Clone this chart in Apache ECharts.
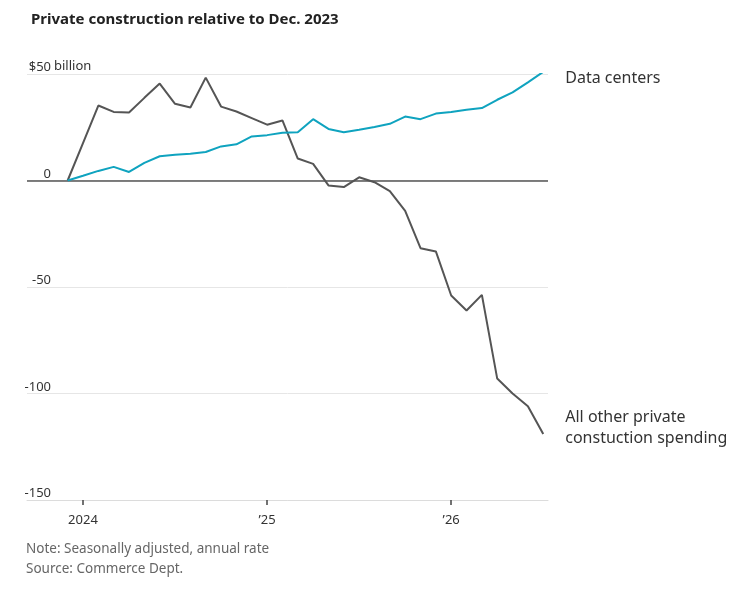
<!DOCTYPE html>
<html>
<head>
    <meta charset="utf-8">
    <title>Private construction relative to Dec. 2023</title>
    <style>
        html, body { margin: 0; padding: 0; background: #fff; }
        #main { width: 752px; height: 590px; }
    </style>
</head>
<body>
<div id="main"></div>
<script src="https://cdn.jsdelivr.net/npm/echarts@6.0.0/dist/echarts.min.js"></script>
<script type="text/javascript">

// months from Dec. 2023, one point each
var months = ['2023-12',
    '2024-01','2024-02','2024-03','2024-04','2024-05','2024-06','2024-07','2024-08','2024-09','2024-10','2024-11','2024-12',
    '2025-01','2025-02','2025-03','2025-04','2025-05','2025-06','2025-07','2025-08','2025-09','2025-10','2025-11','2025-12',
    '2026-01','2026-02','2026-03','2026-04','2026-05','2026-06','2026-07'];

// change vs Dec. 2023, $ billion
var dataCenters = [0, 2.2, 4.5, 6.4, 4.0, 8.3, 11.4, 12.1, 12.6, 13.4, 16.0, 17.0, 20.7,
    21.3, 22.4, 22.6, 28.8, 24.2, 22.7, 23.8, 25.1, 26.6, 30.0, 28.8, 31.4,
    32.2, 33.2, 34.0, 37.9, 41.4, 46.1, 51.0];

var allOther = [0, 17.6, 35.2, 32.2, 31.9, 38.8, 45.5, 36.0, 34.3, 48.3, 34.7, 32.4, 29.3,
    26.2, 28.2, 10.3, 7.8, -2.3, -3.1, 1.5, -0.8, -5.0, -14.3, -31.8, -33.3,
    -54.0, -61.0, -53.7, -93.0, -100.0, -106.0, -119.0];

var xTickIdx = [1, 13, 25];
var xTickLabels = ['2024', '\u201925', '\u201926'];
var yTicks = [-150, -100, -50, 0, 50];

var main = document.getElementById('main');
var myChart = echarts.init(main);

function pairs(vals) {
    var out = [];
    for (var i = 0; i < vals.length; i++) out.push([i, vals[i]]);
    return out;
}

var font = 'Noto Sans';

var option = {
    animation: false,
    backgroundColor: '#fff',
    textStyle: { fontFamily: font },
    title: {
        text: 'Private construction relative to Dec. 2023',
        left: 26,
        top: 7,
        textStyle: { fontFamily: font, fontSize: 15, fontWeight: 'bold', color: '#222' }
    },
    grid: { left: 27, right: 204, top: 74, bottom: 90 },
    xAxis: {
        type: 'value',
        min: -2.65,
        max: 31.31,
        splitLine: { show: false },
        axisLine: { show: true, onZero: false, lineStyle: { color: '#dcdcdc', width: 1 } },
        axisTick: {
            show: true,
            customValues: xTickIdx,
            length: 5,
            lineStyle: { color: '#444', width: 1.5 }
        },
        axisLabel: {
            customValues: xTickIdx,
            margin: 14,
            fontSize: 13,
            color: '#333',
            formatter: function (v) {
                var k = xTickIdx.indexOf(Math.round(v));
                return k >= 0 ? xTickLabels[k] : '';
            }
        }
    },
    yAxis: {
        type: 'value',
        min: -150,
        max: 50,
        interval: 50,
        axisLine: { show: false },
        axisTick: { show: false },
        splitLine: { show: true, lineStyle: { color: '#e6e6e6', width: 1 } },
        axisLabel: {
            inside: true,
            align: 'right',
            verticalAlign: 'bottom',
            margin: 24,
            fontSize: 13,
            color: '#333',
            formatter: function (v) {
                if (v === 50) return '$50';
                return v < 0 ? '-' + Math.abs(v) : String(v);
            }
        }
    },
    graphic: [
        { type: 'text', left: 54, top: 60, style: { text: 'billion', fontFamily: font, fontSize: 13, fill: '#333' }, z: 10 },
        { type: 'text', left: 26, top: 542, style: { text: 'Note: Seasonally adjusted, annual rate', fontFamily: font, fontSize: 13.5, fill: '#666' } },
        { type: 'text', left: 26, top: 562, style: { text: 'Source: Commerce Dept.', fontFamily: font, fontSize: 13.5, fill: '#666' } }
    ],
    series: [{
        name: 'All other private construction spending',
        type: 'line',
        data: pairs(allOther),
        symbol: 'none',
        lineStyle: { color: '#555', width: 2 },
        z: 3,
        endLabel: {
            show: true,
            formatter: 'All other private\nconstuction spending',
            color: '#333',
            fontSize: 16,
            lineHeight: 21,
            distance: 22,
            offset: [0, -6]
        },
        markLine: {
            silent: true,
            symbol: 'none',
            label: { show: false },
            lineStyle: { color: '#555', width: 1.5, type: 'solid' },
            data: [{ yAxis: 0 }],
            z: 2
        }
    }, {
        name: 'Data centers',
        type: 'line',
        data: pairs(dataCenters),
        symbol: 'none',
        lineStyle: { color: '#0fa3bf', width: 2 },
        z: 4,
        endLabel: {
            show: true,
            formatter: 'Data centers',
            color: '#333',
            fontSize: 16,
            distance: 22,
            offset: [0, 7]
        }
    }]
};

myChart.setOption(option);
</script>
</body>
</html>
